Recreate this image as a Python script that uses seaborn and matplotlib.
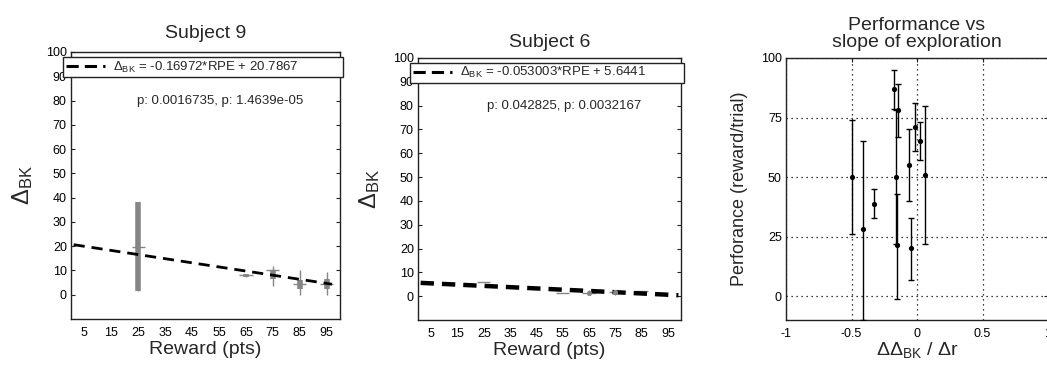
import numpy as np
import pandas as pd
import matplotlib
matplotlib.use("Agg")
import matplotlib.pyplot as plt
import seaborn as sns
from matplotlib.lines import Line2D

# Subject 9: mean change in exploration per reward bin
s9_reward = [25, 65, 75, 85, 95]
s9_delta = [19.5, 8.0, 10.0, 4.5, 4.5]
s9_outer_lo = [1.5, 7.5, 3.5, 0.0, 0.0]
s9_outer_hi = [38.0, 8.5, 12.0, 10.0, 9.5]
s9_inner_lo = [1.5, 7.5, 6.5, 2.5, 2.5]
s9_inner_hi = [38.0, 8.5, 10.0, 6.0, 6.5]
s9_slope, s9_intercept = -0.16972, 20.7867
s9_p = "p: 0.0016735, p: 1.4639e-05"

# Subject 6
s6_reward = [25, 55, 65, 75, 85]
s6_delta = [6.0, 1.2, 1.5, 1.7, 2.2]
s6_err = [0.0, 0.0, 1.0, 1.0, 0.0]
s6_slope, s6_intercept = -0.053003, 5.6441
s6_p = "p: 0.042825, p: 0.0032167"

reward_ticks = [5, 15, 25, 35, 45, 55, 65, 75, 85, 95]

# Performance vs slope of exploration, one point per subject
slope_vals = [-0.50, -0.41, -0.33, -0.175, -0.148, -0.163, -0.152, -0.059, -0.048, -0.018, 0.023, 0.059]
perf_vals = [50.0, 28.2, 38.9, 87.0, 78.0, 50.0, 21.3, 55.0, 20.2, 70.9, 65.2, 51.0]
perf_lo = [26.0, -10.0, 33.0, 78.5, 67.0, 22.0, -1.0, 40.0, 7.0, 61.0, 57.0, 22.0]
perf_hi = [74.0, 65.0, 45.0, 95.0, 89.0, 78.0, 43.0, 70.0, 33.0, 81.0, 73.0, 80.0]

sns.set_theme(style="white")
plt.rcParams["font.family"] = ["Liberation Sans", "DejaVu Sans"]
plt.rcParams["mathtext.fontset"] = "custom"
plt.rcParams["mathtext.rm"] = "Liberation Sans"
plt.rcParams["mathtext.it"] = "Liberation Sans"

W, H = 1047, 366
fig = plt.figure(figsize=(W / 100, H / 100), dpi=100)
fig.patch.set_facecolor("white")

GRAY = "#858585"


def style_box(ax):
    for s in ax.spines.values():
        s.set_visible(True)
        s.set_color("#222222")
        s.set_linewidth(1.0)
    ax.tick_params(direction="in", length=3, width=0.8, colors="#222222",
                   labelsize=9, labelcolor="black", pad=3)
    ax.set_facecolor("white")


def reward_panel(ax, title, title_pad, slope, intercept, ptext, fit_x, lw, dashes):
    fx = np.array(fit_x, dtype=float)
    fit = pd.DataFrame({"x": fx, "y": slope * fx + intercept})
    sns.lineplot(data=fit, x="x", y="y", ax=ax, color="black", lw=lw, zorder=4)
    ax.lines[-1].set_dashes(dashes)
    ax.set_xlim(0, 100)
    ax.set_ylim(-10, 100)
    ax.set_xticks(reward_ticks)
    ax.set_yticks(range(0, 101, 10))
    style_box(ax)
    ax.tick_params(top=True, right=True, bottom=True, left=True,
                   labeltop=False, labelright=False)
    ax.tick_params(axis="x", length=0, pad=6)
    ax.set_title(title, fontsize=14, pad=title_pad)
    ax.set_xlabel("Reward (pts)", fontsize=14, labelpad=1)
    ax.set_ylabel(r"$\Delta_{\rm BK}$", fontsize=17, labelpad=8)
    eq = r"$\Delta_{\rm BK}$" + " = {:g}*RPE + {:g}".format(slope, intercept)
    handle = Line2D([0], [0], color="black", lw=2.2, dashes=(4, 2))
    leg = ax.legend([handle], [eq], loc="upper left", mode="expand",
                    bbox_to_anchor=(-0.03, 0.876, 1.04, 0.106),
                    fancybox=False, framealpha=1, edgecolor="#222222",
                    fontsize=9.5, handlelength=3.0, borderpad=0.2,
                    handletextpad=0.6, borderaxespad=0)
    leg.get_frame().set_linewidth(1.0)
    leg.set_zorder(10)
    ax.text(0.555, 0.815, ptext, transform=ax.transAxes, ha="center",
            va="center", fontsize=9.5)


# Panel 1: Subject 9
ax1 = fig.add_axes([71 / W, 1 - 319 / H, 269 / W, 267 / H])
reward_panel(ax1, "Subject 9", 10, s9_slope, s9_intercept,
             s9_p, [1, 97], 2.0, (4, 2.5))
ax1.errorbar(s9_reward, s9_delta,
             yerr=[np.subtract(s9_delta, s9_outer_lo), np.subtract(s9_outer_hi, s9_delta)],
             xerr=2.5, fmt="none", ecolor=GRAY, elinewidth=1.0, zorder=3)
ax1.errorbar(s9_reward, s9_delta,
             yerr=[np.subtract(s9_delta, s9_inner_lo), np.subtract(s9_inner_hi, s9_delta)],
             fmt="none", ecolor=GRAY, elinewidth=4.0, zorder=3)

# Panel 2: Subject 6
ax2 = fig.add_axes([418 / W, 1 - 320 / H, 263 / W, 262 / H])
reward_panel(ax2, "Subject 6", 8, s6_slope, s6_intercept,
             s6_p, [1, 99], 3.2, (3, 1.8))
ax2.errorbar(s6_reward, s6_delta, yerr=s6_err, xerr=2.5, fmt="none",
             ecolor=GRAY, elinewidth=1.0, zorder=3)
sns.scatterplot(x=s6_reward[2:4], y=s6_delta[2:4], ax=ax2, color=GRAY,
                s=14, linewidth=0, zorder=5, legend=False)

# Panel 3: performance vs slope
ax3 = fig.add_axes([786 / W, 1 - 320 / H, 262 / W, 262 / H])
perf = pd.DataFrame({"slope": slope_vals, "perf": perf_vals})
ax3.errorbar(slope_vals, perf_vals,
             yerr=[np.subtract(perf_vals, perf_lo), np.subtract(perf_hi, perf_vals)],
             fmt="none", ecolor="black", elinewidth=1.0, capsize=2.2,
             capthick=1.0, zorder=3)
sns.scatterplot(data=perf, x="slope", y="perf", ax=ax3, color="black",
                s=14, linewidth=0, zorder=4, legend=False)
ax3.set_xlim(-1, 1)
ax3.set_ylim(-10, 100)
ax3.set_xticks([-1, -0.5, 0, 0.5, 1])
ax3.set_xticklabels(["-1", "-0.5", "0", "0.5", "1"])
ax3.set_yticks([0, 25, 50, 75, 100])
style_box(ax3)
ax3.tick_params(top=True, right=True, labeltop=False, labelright=False)
ax3.tick_params(axis="x", pad=6)
ax3.grid(True, color="black", linestyle=(0, (1, 3)), linewidth=0.9)
ax3.set_axisbelow(True)
ax3.set_title("Performance vs\nslope of exploration", fontsize=14, pad=8,
              linespacing=1.0)
ax3.set_xlabel(r"$\Delta\Delta_{\rm BK}$ / $\Delta$r", fontsize=14, labelpad=0)
ax3.set_ylabel("Perforance (reward/trial)", fontsize=13, labelpad=9)

fig.savefig("out.png", dpi=100, facecolor="white")
